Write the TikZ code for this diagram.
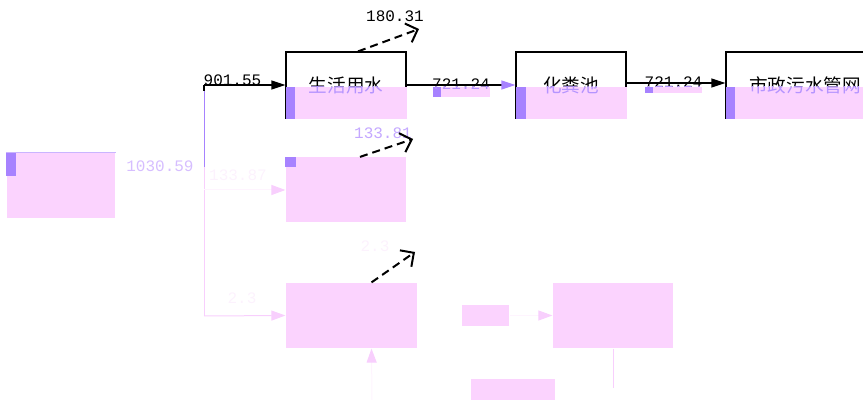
\documentclass[tikz,border=0pt]{standalone}
\usepackage{fontspec}
\setmonofont{Liberation Mono}
\newfontfamily\cjk{Noto Sans CJK SC}
\usetikzlibrary{arrows.meta}
\definecolor{hlpink}{HTML}{FBD3FE}
\definecolor{mkpurple}{HTML}{A782FF}
\definecolor{undertxt}{HTML}{B594FF}
\definecolor{paleline}{HTML}{F8CFFD}
\definecolor{faintline}{HTML}{FEF4FE}
\definecolor{paletxt}{HTML}{FCF2FD}
\definecolor{lighttxt}{HTML}{D6BEFF}
\definecolor{midtxt}{HTML}{C4A8FF}

\begin{document}
\begin{tikzpicture}[x=0.5pt, y=-0.5pt, line width=0.6pt,
    >={Triangle[length=7pt,width=4.5pt]},
    unit/.style = {draw, minimum height=33pt, inner sep=0pt, font={\cjk\fontsize{9.3}{10}\selectfont}},
    zone/.style = {fill=hlpink, minimum height=32.5pt, inner sep=0pt},
    hl/.style = {fill=hlpink},
    mk/.style = {fill=mkpurple},
    num/.style = {font={\ttfamily\fontsize{8}{9}\selectfont}, inner sep=0pt},
    pale/.style = {draw=paleline, line width=0.5pt, -{Triangle[length=7pt,width=5pt,color=paleline]}},
    faint/.style = {draw=faintline, line width=0.5pt, -{Triangle[length=7pt,width=5pt,color=paleline]}},
    loss/.style = {line width=1pt, dash pattern=on 4pt off 2.5pt, -{Straight Barb[length=5pt,width=10pt]}}]
    \useasboundingbox (0,0) rectangle (863,400);

    % Nodes
    \node[unit, minimum width=60pt] (b1) at (346,85) {生活用水};
    \node[unit, minimum width=55pt] (b2) at (571,85) {化粪池};
    \node[unit, minimum width=79pt] (b3) at (805,85) {市政污水管网};

    \node[zone, minimum width=54pt] (src) at (61,185.5) {};
    \node[zone, minimum width=60pt] (m1) at (346,190) {};
    \node[zone, minimum width=65.5pt] (l1) at (351.5,315.5) {};
    \node[zone, minimum width=23.5pt, minimum height=10.5pt] (s1) at (485.5,315.5) {};
    \node[zone, minimum width=60pt] (l2) at (613,315.5) {};
    \node[zone, minimum width=42pt, minimum height=10.5pt] (bt) at (513,389.5) {};

    \fill[mk] (src.north west) rectangle (16,176);
    \draw[mkpurple!60, line width=0.5pt] (src.north west) -- (src.north east);
    \fill[mk] (m1.north west) rectangle (296,167);

    \coordinate (t1) at (204,85);
    \coordinate (t0) at (204,91);
    \coordinate (t2) at (204,167);
    \coordinate (t3) at (204,190);
    \coordinate (t4) at (204,316);
    \coordinate (o1) at (419,29);
    \coordinate (o2) at (413,139);
    \coordinate (o3) at (415,252);
    \coordinate (u1) at (372,400);
    \coordinate (d1) at (613,388);

    \node[num, text=lighttxt] (v0) at (160,166) {1030.59};
    \node[num] (v1) at (395,16) {180.31};
    \node[num, text=midtxt] (v2) at (383,133) {133.81};
    \node[num, text=paletxt] (v3) at (238,175) {133.87};
    \node[num, text=paletxt] (v4) at (242,298) {2.3};
    \node[num, text=paletxt] (v5) at (375,246) {2.3};

    % Edges
    \draw (t1) -- (t0);
    \draw[mkpurple, line width=0.5pt] (t0) -- (t2);
    \draw[paleline, line width=0.5pt] (t2) -- (t4);
    \draw[->] (t1) -- (b1.west) node[num, pos=.35, yshift=2.5pt] (w0) {901.55};
    \draw[-{Triangle[length=7pt,width=4.5pt,color=mkpurple]}] (b1.east) -- (b2.west) node[num, midway, yshift=0.5pt] (w1) {721.24};
    \draw[->] ([yshift=1pt]b2.east) -- ([yshift=1pt]b3.west) node[num, pos=.475, yshift=0.5pt] (w2) {721.24};
    \draw[faint] (t3) -- (m1.west);
    \draw[pale] (t4) -- (l1.west);
    \draw[faint] (u1) -- ([xshift=10pt]l1.south);
    \draw[faint] (s1.east) -- (l2.west);
    \draw[paleline, line width=0.5pt] (l2.south) -- (d1);

    \draw[loss] ([xshift=6pt]b1.north) -- (o1);
    \draw[loss] ([xshift=7pt]m1.north) -- (o2);
    \draw[loss] ([xshift=10pt]l1.north) -- (o3);

    % pink band over the lower half of the top row
    \begin{scope}
      \clip (0,87) rectangle (863,120);
      \fill[hl] (285.7,87) rectangle (406.6,119);
      \fill[mk] (285.7,87) rectangle (295,119);
      \fill[hl] (515.7,87) rectangle (626.6,119);
      \fill[mk] (515.7,87) rectangle (526,119);
      \fill[hl] (725.7,87) rectangle (863,119);
      \fill[mk] (725.7,87) rectangle (735,119);
      \fill[hl] (433,87) rectangle (490,97);
      \fill[mk] (433,87) rectangle (441,97);
      \fill[hl] (645,87) rectangle (702,93);
      \fill[mk] (645,87) rectangle (653,93);
      \node[unit, draw=none, minimum width=60pt, text=undertxt] at (b1) {生活用水};
      \node[unit, draw=none, minimum width=55pt, text=undertxt] at (b2) {化粪池};
      \node[unit, draw=none, minimum width=79pt, text=undertxt] at (b3) {市政污水管网};
      \node[num, text=undertxt] at (w1) {721.24};
      \node[num, text=undertxt] at (w2) {721.24};
    \end{scope}

\end{tikzpicture}
\end{document}
